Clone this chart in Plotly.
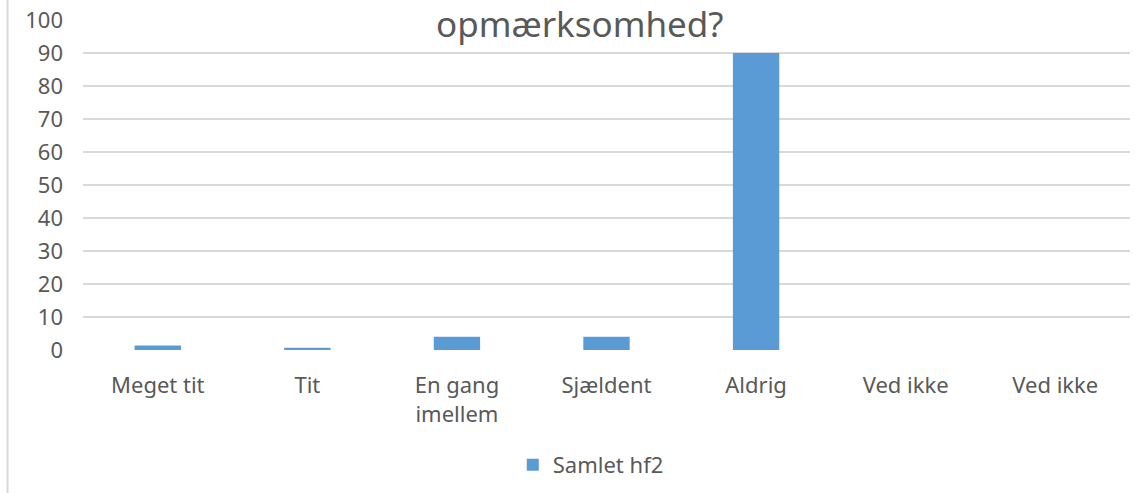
import plotly.graph_objects as go

# Survey answers and counts for "Samlet hf2"
categories = ["Meget tit", "Tit", "En gang<br>imellem", "Sjældent", "Aldrig", "Ved ikke", "Ved ikke"]
values = [1.4, 0.7, 4.0, 4.0, 90.0, 0.0, 0.0]
series_name = "Samlet hf2"
y_ticks = [0, 10, 20, 30, 40, 50, 60, 70, 80, 90, 100]
title_text = "opmærksomhed?"

W, H = 1145, 493
ML, MR, MT, MB = 83, 15, 20, 143
text_color = "#595959"
grid_color = "#d9d9d9"
bar_color = "#5b9bd5"
font_family = "'Noto Sans', 'Open Sans', sans-serif"

positions = list(range(len(categories)))

fig = go.Figure()
fig.add_trace(go.Bar(
    x=positions,
    y=values,
    name=series_name,
    marker=dict(color=bar_color, line=dict(width=0)),
    width=0.31,
    showlegend=True,
))

plot_h = H - MT - MB
plot_w = W - ML - MR

fig.update_layout(
    width=W,
    height=H,
    margin=dict(l=ML, r=MR, t=MT, b=MB, autoexpand=False),
    paper_bgcolor="white",
    plot_bgcolor="white",
    font=dict(family=font_family, color=text_color, size=22),
    xaxis=dict(
        range=[-0.5, len(categories) - 0.5],
        tickmode="array",
        tickvals=positions,
        ticktext=categories,
        showgrid=False,
        zeroline=False,
        showline=False,
        ticks="",
        automargin=False,
        ticklabelstandoff=20,
        tickfont=dict(size=22, color=text_color),
    ),
    yaxis=dict(
        range=[0, 100],
        tickmode="array",
        tickvals=y_ticks,
        showgrid=True,
        gridcolor=grid_color,
        gridwidth=1.5,
        zeroline=False,
        showline=False,
        ticks="",
        automargin=False,
        ticklabelstandoff=19,
        tickfont=dict(size=22, color=text_color),
    ),
    legend=dict(
        orientation="h",
        x=0.485,
        xanchor="center",
        y=(0 - (465 - (H - MB))) / plot_h,
        yanchor="middle",
        font=dict(size=22, color=text_color),
        itemwidth=30,
    ),
    annotations=[
        dict(
            text=title_text,
            x=(580 - ML) / plot_w,
            y=(H - MB - 24) / plot_h,
            xref="paper",
            yref="paper",
            xanchor="center",
            yanchor="middle",
            showarrow=False,
            font=dict(size=35, color=text_color, family=font_family),
        )
    ],
    shapes=[
        dict(
            type="line",
            xref="paper",
            yref="paper",
            x0=(7.5 - ML) / plot_w,
            x1=(7.5 - ML) / plot_w,
            y0=-(MB) / plot_h,
            y1=1 + MT / plot_h + 0.1,
            line=dict(color=grid_color, width=2),
            layer="below",
        )
    ],
)

fig.write_html("out.html")
